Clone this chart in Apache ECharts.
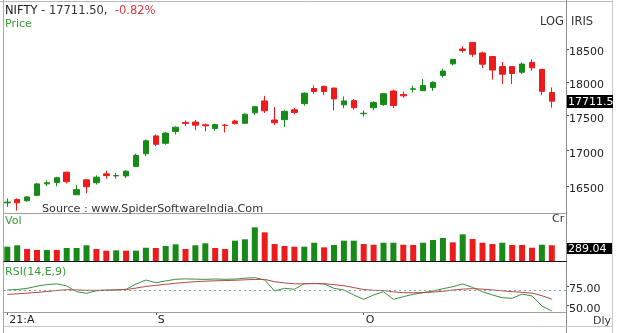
<!DOCTYPE html>
<html><head><meta charset="utf-8">
<script src="https://cdn.jsdelivr.net/npm/echarts@6/dist/echarts.min.js"></script>
<style>html,body{margin:0;padding:0;background:#fff}#c{width:620px;height:333px}</style>
</head><body><div id="c"></div>
<script>
// ---------------- data ----------------
const dates = [
 '2021-08-10','2021-08-11','2021-08-12','2021-08-13','2021-08-16','2021-08-17','2021-08-18','2021-08-20','2021-08-23','2021-08-24',
 '2021-08-25','2021-08-26','2021-08-27','2021-08-30','2021-08-31','2021-09-01','2021-09-02','2021-09-03','2021-09-06','2021-09-07',
 '2021-09-08','2021-09-09','2021-09-13','2021-09-14','2021-09-15','2021-09-16','2021-09-17','2021-09-20','2021-09-21','2021-09-22',
 '2021-09-23','2021-09-24','2021-09-27','2021-09-28','2021-09-29','2021-09-30','2021-10-01','2021-10-04','2021-10-05','2021-10-06',
 '2021-10-07','2021-10-08','2021-10-11','2021-10-12','2021-10-13','2021-10-14','2021-10-18','2021-10-19','2021-10-20','2021-10-21',
 '2021-10-22','2021-10-25','2021-10-26','2021-10-27','2021-10-28','2021-10-29'];
const opens = [16270,16315,16298,16372,16530,16548,16691,16380,16585,16545,
 16668,16640,16640,16770,16950,17205,17100,17270,17400,17405,
 17365,17310,17360,17420,17387,17540,17715,17435,17440,17585,
 17675,17900,17932,17906,17658,17719,17528,17615,17662,17862,
 17810,17887,17867,17916,18097,18272,18500,18602,18440,18383,
 18230,18230,18145,18295,18188,17840];
const highs = [16330,16330,16362,16543,16578,16628,16701,16515,16592,16647,
 16710,16683,16722,16951,17154,17226,17260,17341,17430,17436,
 17384,17380,17378,17439,17533,17645,17790,17625,17578,17610,
 17843,17947,17943,17913,17781,17743,17575,17710,17833,17884,
 17857,17941,18042,18009,18198,18350,18543,18604,18459,18384,
 18300,18241,18294,18342,18190,17915];
const lows = [16215,16165,16285,16361,16500,16495,16535,16375,16400,16520,
 16600,16603,16610,16764,16915,17056,17080,17225,17345,17287,
 17270,17280,17255,17367,17386,17510,17537,17361,17335,17520,
 17646,17819,17802,17576,17608,17585,17485,17577,17641,17613,
 17763,17840,17865,17865,18065,18248,18445,18377,18209,18034,
 17968,17968,18117,18167,17799,17615];
const closes = [16280,16270,16350,16529,16545,16614,16560,16450,16490,16622,
 16645,16645,16705,16925,17135,17085,17245,17330,17385,17360,
 17350,17368,17355,17385,17519,17630,17570,17395,17562,17545,
 17830,17855,17855,17745,17715,17615,17534,17691,17822,17646,
 17790,17895,17946,17992,18162,18339,18477,18419,18267,18178,
 18115,18125,18268,18211,17857,17711.5];
const volumes = [264,289,224,206,206,206,241,241,289,224,
 194,200,194,194,246,241,276,306,224,289,
 324,241,224,370,394,605,517,311,276,264,
 264,334,253,294,370,370,311,299,334,334,
 299,294,334,382,417,341,482,400,334,311,
 334,294,294,246,299,289.04];
const volUp = [1,1,0,0,1,0,1,1,1,0, 0,1,0,1,1,0,1,1,0,1, 1,0,0,1,1,1,0,0,0,0,
 1,1,0,1,1,1,0,0,1,1, 0,0,1,1,1,0,1,0,0,0, 1,0,0,0,1,0];
const rsi = [69.9,70.5,72.0,74.8,76.8,77.8,75.0,67.7,65.6,68.8,
 69.5,69.8,70.8,77.5,82.7,79.2,81.5,83.6,84.2,83.8,
 83.5,84.0,83.6,83.9,85.0,85.7,82.7,68.6,72.1,70.8,
 78.0,78.4,77.6,72.0,69.9,63.5,57.9,63.5,67.7,57.9,
 61.3,64.4,66.4,68.6,71.5,74.1,77.6,73.3,67.7,63.5,
 60.0,59.2,64.7,62.2,49.4,43.0];
const rsiSignal = [64.3,65.0,65.8,66.8,67.9,69.3,70.2,70.0,69.4,69.5,
 69.8,70.0,70.5,72.3,74.5,75.8,77.2,78.5,79.6,80.5,
 81.2,81.7,82.0,82.4,82.9,83.5,83.5,80.5,79.0,77.8,
 77.8,78.0,78.0,76.8,75.3,73.0,70.5,69.5,69.2,67.5,
 66.5,66.3,66.6,67.2,68.3,69.8,71.0,71.6,71.0,70.0,
 68.8,67.7,67.0,65.8,62.6,58.0];
const priceTicks = [16500,17000,17500,18000,18500];
const rsiTicks = [50,75];
const rsiLevel = 70;
const xTickIdx = [0,15,36];
const xTickText = ['21:A','S','O'];
const symbolName = 'NIFTY';
const lastPrice = 17711.5;
const changePct = -0.82;
const lastVol = 289.04;

// ---------------- chart ----------------
const FONT = '"DejaVu Sans", Verdana, sans-serif';
const GREEN = '#178a17', RED = '#ec1c1c';
const L = 2.35, R = 63.25, AXOFF = 9.25;
const ln = Math.log;
const candleData = dates.map((d,i)=>[ln(opens[i]), ln(closes[i]), ln(lows[i]), ln(highs[i])]);

const chart = echarts.init(document.getElementById('c'), null, {renderer:'canvas'});
const hiddenX = (gi)=>({type:'category', gridIndex:gi, data:dates, boundaryGap:true,
  axisLine:{show:false}, axisTick:{show:false}, axisLabel:{show:false}, splitLine:{show:false}});
const showTick = (i)=> xTickIdx.indexOf(i) >= 0;
const yLab = (fmt)=>({margin:3, verticalAlign:'top', lineHeight:7,
  color:'#222', fontSize:11, fontFamily:FONT, formatter:fmt});

chart.setOption({
  animation:false,
  grid:[
    {left:L, right:R, top:10, height:203},
    {left:L, right:R, top:214, height:47.7},
    {left:L, right:R, top:263, height:49}
  ],
  xAxis:[ hiddenX(0), hiddenX(1),
    {type:'category', gridIndex:2, data:dates, boundaryGap:true,
     axisLine:{show:false},
     axisTick:{show:true, alignWithLabel:true, interval:showTick, length:3, lineStyle:{color:'#555'}},
     axisLabel:{show:true, interval:showTick, align:'left', margin:3, padding:[0,0,0,2],
       color:'#222', fontSize:11, fontFamily:FONT,
       formatter:(v,i)=> xTickText[xTickIdx.indexOf(i)] || ''},
     splitLine:{show:false}}
  ],
  yAxis:[
    {type:'value', gridIndex:0, position:'right', offset:AXOFF, scale:true,
     min:ln(16132.2), max:ln(19112.5),
     axisLine:{show:false}, splitLine:{show:false},
     axisTick:{show:true, length:3, customValues:priceTicks.map(ln), lineStyle:{color:'#555'}},
     axisLabel:Object.assign({customValues:priceTicks.map(ln)}, yLab((v)=> String(Math.round(Math.exp(v)))))},
    {type:'value', gridIndex:1, min:0, max:840, show:false, splitLine:{show:false}},
    {type:'value', gridIndex:2, position:'right', offset:AXOFF, min:41.67, max:104.5,
     axisLine:{show:false}, splitLine:{show:false},
     axisTick:{show:true, length:3, customValues:rsiTicks, lineStyle:{color:'#555'}},
     axisLabel:Object.assign({customValues:rsiTicks}, yLab((v)=> Number(v).toFixed(2)))}
  ],
  series:[
    {type:'candlestick', xAxisIndex:0, yAxisIndex:0, data:candleData, barWidth:6,
     itemStyle:{color:GREEN, color0:RED, borderColor:GREEN, borderColor0:RED, borderWidth:1}},
    {type:'bar', xAxisIndex:1, yAxisIndex:1, barWidth:6,
     data:volumes.map((v,i)=>({value:v, itemStyle:{color: volUp[i] ? GREEN : RED}}))},
    {type:'line', xAxisIndex:2, yAxisIndex:2, data:rsi, symbol:'none',
     lineStyle:{color:'#3d8f3d', width:1}},
    {type:'line', xAxisIndex:2, yAxisIndex:2, data:rsiSignal, symbol:'none',
     lineStyle:{color:'#b24848', width:1}}
  ]
});

// overlay: frame, labels, value boxes (positions from the library's scales)
const yPrice = chart.convertToPixel({yAxisIndex:0}, ln(lastPrice));
const yVol = chart.convertToPixel({yAxisIndex:1}, lastVol);
const y70 = chart.convertToPixel({yAxisIndex:2}, rsiLevel);
const line = (x1,y1,x2,y2,color,extra)=>Object.assign({type:'line', silent:true, z:50,
  shape:{x1,y1,x2,y2}, style:Object.assign({stroke:color, lineWidth:1}, extra||{})});
const txt = (x,y,text,color,size,extra)=>Object.assign({type:'text', silent:true, z:60, x, y,
  style:Object.assign({text, fill:color, font:`${size||11}px ${FONT}`, verticalAlign:'middle'}, extra||{})});

const pctStr = (changePct>0?'+':'') + changePct.toFixed(2) + '%';
chart.setOption({graphic:[
  line(3.5,0,3.5,333,'#a8a8a8'),
  line(0,1.5,613,1.5,'#b8b8b8'),
  line(566.5,0,566.5,333,'#8c8c8c'),
  line(3.5,213.5,566.5,213.5,'#a0a0a0'),
  line(3.5,261.5,566.5,261.5,'#111'),
  line(3.5,312.5,566.5,312.5,'#a0a0a0'),
  line(3.5,326.5,612.5,326.5,'#c8c8c8'),
  line(4,Math.round(y70)+0.5,566,Math.round(y70)+0.5,'#7aa898',{lineDash:[2,3]}),
  {type:'text', silent:true, z:60, x:5, y:11, style:{
     text:`{a|${symbolName}} {b|- ${lastPrice.toFixed(2)},}  {c|${pctStr}}`,
     verticalAlign:'middle', font:`11.5px ${FONT}`,
     rich:{a:{fill:'#1a1a1a', font:`11.5px ${FONT}`}, b:{fill:'#333', font:`11.5px ${FONT}`}, c:{fill:'#d23c3c', font:`11.5px ${FONT}`}}}},
  txt(5,24,'Price','#3a9a3a',11),
  txt(540,22,'LOG','#333',11.5),
  txt(571,22,'IRIS','#333',11.5),
  txt(42,209,'Source : www.SpiderSoftwareIndia.Com','#333',11.2),
  txt(5,221,'Vol','#3a9a3a',11),
  txt(552,219,'Cr','#333',11),
  txt(5,272,'RSI(14,E,9)','#3a9a3a',11),
  txt(593,321,'Dly','#333',11),
  {type:'rect', silent:true, z:55, shape:{x:567, y:Math.round(yPrice)-6, width:46, height:13}, style:{fill:'#000'}},
  txt(568,yPrice+0.5,String(lastPrice),'#fff',11),
  {type:'rect', silent:true, z:55, shape:{x:567, y:Math.round(yVol)-2, width:45, height:11}, style:{fill:'#000'}},
  txt(568,yVol+3.5,lastVol.toFixed(2),'#fff',11),
  {type:'rect', silent:true, z:58, shape:{x:613, y:0, width:7, height:333}, style:{fill:'#fff'}},
  line(612.5,0,612.5,333,'#c8c8c8',{})
]});
</script>
</body></html>
